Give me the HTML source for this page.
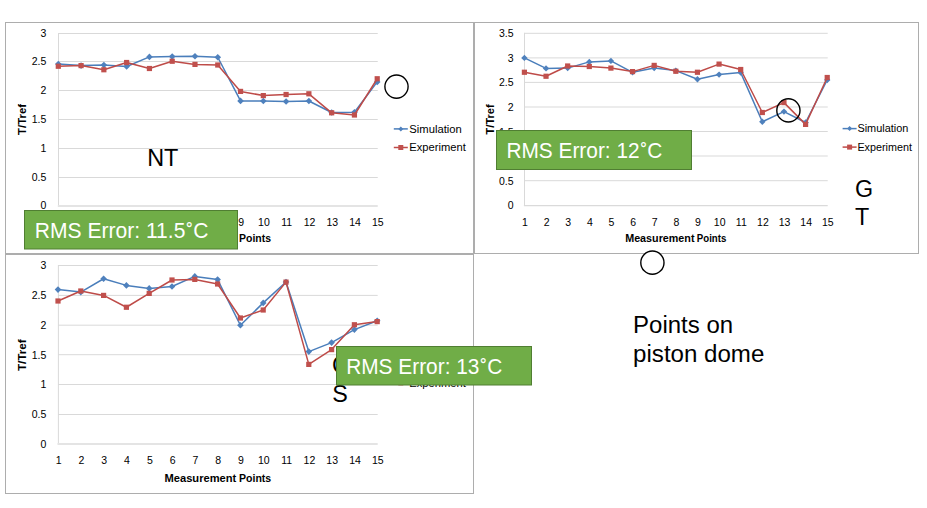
<!DOCTYPE html>
<html><head><meta charset="utf-8"><style>html,body{margin:0;padding:0;background:#fff;overflow:hidden}svg{display:block}</style></head><body>
<svg width="927" height="508" viewBox="0 0 927 508" font-family="'Liberation Sans', Arial, sans-serif" fill="#000">
<rect width="927" height="508" fill="#fff"/>
<g fill="none" stroke="#ADADAD" stroke-width="1">
<rect x="5.5" y="22.5" width="468" height="231"/>
<rect x="474.5" y="22.5" width="444" height="231"/>
<rect x="5.5" y="254.5" width="468" height="239"/>
</g>
<line x1="58.3" y1="33.5" x2="377.72" y2="33.5" stroke="#D9D9D9" stroke-width="1"/>
<line x1="58.3" y1="61.5" x2="377.72" y2="61.5" stroke="#D9D9D9" stroke-width="1"/>
<line x1="58.3" y1="90.5" x2="377.72" y2="90.5" stroke="#D9D9D9" stroke-width="1"/>
<line x1="58.3" y1="119.5" x2="377.72" y2="119.5" stroke="#D9D9D9" stroke-width="1"/>
<line x1="58.3" y1="148.5" x2="377.72" y2="148.5" stroke="#D9D9D9" stroke-width="1"/>
<line x1="58.3" y1="177.5" x2="377.72" y2="177.5" stroke="#D9D9D9" stroke-width="1"/>
<line x1="58.5" y1="33.0" x2="58.5" y2="206" stroke="#D9D9D9" stroke-width="1"/>
<line x1="57.8" y1="206" x2="377.72" y2="206" stroke="#E4E4E4" stroke-width="2"/>
<text x="46.4" y="37.30" text-anchor="end" font-size="10.5">3</text>
<text x="46.4" y="65.30" text-anchor="end" font-size="10.5">2.5</text>
<text x="46.4" y="94.30" text-anchor="end" font-size="10.5">2</text>
<text x="46.4" y="123.30" text-anchor="end" font-size="10.5">1.5</text>
<text x="46.4" y="152.30" text-anchor="end" font-size="10.5">1</text>
<text x="46.4" y="181.30" text-anchor="end" font-size="10.5">0.5</text>
<text x="46.4" y="209.40" text-anchor="end" font-size="10.5">0</text>
<text x="58.90" y="225.9" text-anchor="middle" font-size="10.5">1</text>
<text x="81.68" y="225.9" text-anchor="middle" font-size="10.5">2</text>
<text x="104.46" y="225.9" text-anchor="middle" font-size="10.5">3</text>
<text x="127.24" y="225.9" text-anchor="middle" font-size="10.5">4</text>
<text x="150.02" y="225.9" text-anchor="middle" font-size="10.5">5</text>
<text x="172.80" y="225.9" text-anchor="middle" font-size="10.5">6</text>
<text x="195.58" y="225.9" text-anchor="middle" font-size="10.5">7</text>
<text x="218.36" y="225.9" text-anchor="middle" font-size="10.5">8</text>
<text x="241.14" y="225.9" text-anchor="middle" font-size="10.5">9</text>
<text x="263.92" y="225.9" text-anchor="middle" font-size="10.5">10</text>
<text x="286.70" y="225.9" text-anchor="middle" font-size="10.5">11</text>
<text x="309.48" y="225.9" text-anchor="middle" font-size="10.5">12</text>
<text x="332.26" y="225.9" text-anchor="middle" font-size="10.5">13</text>
<text x="355.04" y="225.9" text-anchor="middle" font-size="10.5">14</text>
<text x="377.82" y="225.9" text-anchor="middle" font-size="10.5">15</text>
<text x="164.40" y="241.7" font-size="10.2" font-weight="bold" textLength="71.80" lengthAdjust="spacingAndGlyphs">Measurement</text>
<text x="239.00" y="241.7" font-size="10.2" font-weight="bold" textLength="32.00" lengthAdjust="spacingAndGlyphs">Points</text>
<text transform="translate(26.2,119.4) rotate(-90)" x="0" y="0" text-anchor="middle" font-size="10.2" font-weight="bold" textLength="31" lengthAdjust="spacingAndGlyphs">T/Tref</text>
<polyline points="58.30,64.10 81.08,65.60 103.86,65.00 126.64,66.50 149.42,56.90 172.20,56.60 194.98,56.25 217.76,57.25 240.54,100.90 263.32,101.00 286.10,101.50 308.88,101.00 331.66,112.50 354.44,112.30 377.22,81.90" fill="none" stroke="#4A7EBB" stroke-width="1.5" stroke-linejoin="round"/>
<path d="M58.30 60.80L61.60 64.10L58.30 67.40L55.00 64.10Z" fill="#4F81BD"/>
<path d="M81.08 62.30L84.38 65.60L81.08 68.90L77.78 65.60Z" fill="#4F81BD"/>
<path d="M103.86 61.70L107.16 65.00L103.86 68.30L100.56 65.00Z" fill="#4F81BD"/>
<path d="M126.64 63.20L129.94 66.50L126.64 69.80L123.34 66.50Z" fill="#4F81BD"/>
<path d="M149.42 53.60L152.72 56.90L149.42 60.20L146.12 56.90Z" fill="#4F81BD"/>
<path d="M172.20 53.30L175.50 56.60L172.20 59.90L168.90 56.60Z" fill="#4F81BD"/>
<path d="M194.98 52.95L198.28 56.25L194.98 59.55L191.68 56.25Z" fill="#4F81BD"/>
<path d="M217.76 53.95L221.06 57.25L217.76 60.55L214.46 57.25Z" fill="#4F81BD"/>
<path d="M240.54 97.60L243.84 100.90L240.54 104.20L237.24 100.90Z" fill="#4F81BD"/>
<path d="M263.32 97.70L266.62 101.00L263.32 104.30L260.02 101.00Z" fill="#4F81BD"/>
<path d="M286.10 98.20L289.40 101.50L286.10 104.80L282.80 101.50Z" fill="#4F81BD"/>
<path d="M308.88 97.70L312.18 101.00L308.88 104.30L305.58 101.00Z" fill="#4F81BD"/>
<path d="M331.66 109.20L334.96 112.50L331.66 115.80L328.36 112.50Z" fill="#4F81BD"/>
<path d="M354.44 109.00L357.74 112.30L354.44 115.60L351.14 112.30Z" fill="#4F81BD"/>
<path d="M377.22 78.60L380.52 81.90L377.22 85.20L373.92 81.90Z" fill="#4F81BD"/>
<polyline points="58.30,66.25 81.08,65.60 103.86,69.75 126.64,62.50 149.42,68.50 172.20,61.25 194.98,64.40 217.76,65.00 240.54,91.40 263.32,95.60 286.10,94.50 308.88,93.80 331.66,112.80 354.44,115.00 377.22,78.75" fill="none" stroke="#BE4B48" stroke-width="1.5" stroke-linejoin="round"/>
<rect x="55.70" y="63.65" width="5.2" height="5.2" fill="#C0504D"/>
<rect x="78.48" y="63.00" width="5.2" height="5.2" fill="#C0504D"/>
<rect x="101.26" y="67.15" width="5.2" height="5.2" fill="#C0504D"/>
<rect x="124.04" y="59.90" width="5.2" height="5.2" fill="#C0504D"/>
<rect x="146.82" y="65.90" width="5.2" height="5.2" fill="#C0504D"/>
<rect x="169.60" y="58.65" width="5.2" height="5.2" fill="#C0504D"/>
<rect x="192.38" y="61.80" width="5.2" height="5.2" fill="#C0504D"/>
<rect x="215.16" y="62.40" width="5.2" height="5.2" fill="#C0504D"/>
<rect x="237.94" y="88.80" width="5.2" height="5.2" fill="#C0504D"/>
<rect x="260.72" y="93.00" width="5.2" height="5.2" fill="#C0504D"/>
<rect x="283.50" y="91.90" width="5.2" height="5.2" fill="#C0504D"/>
<rect x="306.28" y="91.20" width="5.2" height="5.2" fill="#C0504D"/>
<rect x="329.06" y="110.20" width="5.2" height="5.2" fill="#C0504D"/>
<rect x="351.84" y="112.40" width="5.2" height="5.2" fill="#C0504D"/>
<rect x="374.62" y="76.15" width="5.2" height="5.2" fill="#C0504D"/>
<line x1="393.8" y1="128.9" x2="407.8" y2="128.9" stroke="#4A7EBB" stroke-width="1.5"/>
<path d="M400.8 126.4L403.3 128.9L400.8 131.4L398.3 128.9Z" fill="#4F81BD"/>
<line x1="393.8" y1="147.5" x2="407.8" y2="147.5" stroke="#BE4B48" stroke-width="1.5"/>
<rect x="398.3" y="145.0" width="5" height="5" fill="#C0504D"/>
<text x="409.3" y="132.5" font-size="10" textLength="52.5" lengthAdjust="spacingAndGlyphs">Simulation</text>
<text x="409.3" y="151.1" font-size="10" textLength="56.5" lengthAdjust="spacingAndGlyphs">Experiment</text>
<line x1="524.4" y1="33.3" x2="827.72" y2="33.3" stroke="#D9D9D9" stroke-width="1"/>
<line x1="524.4" y1="57.9" x2="827.72" y2="57.9" stroke="#D9D9D9" stroke-width="1"/>
<line x1="524.4" y1="82.4" x2="827.72" y2="82.4" stroke="#D9D9D9" stroke-width="1"/>
<line x1="524.4" y1="107.0" x2="827.72" y2="107.0" stroke="#D9D9D9" stroke-width="1"/>
<line x1="524.4" y1="131.5" x2="827.72" y2="131.5" stroke="#D9D9D9" stroke-width="1"/>
<line x1="524.4" y1="156.0" x2="827.72" y2="156.0" stroke="#D9D9D9" stroke-width="1"/>
<line x1="524.4" y1="180.7" x2="827.72" y2="180.7" stroke="#D9D9D9" stroke-width="1"/>
<line x1="524.5" y1="32.8" x2="524.5" y2="205.6" stroke="#D9D9D9" stroke-width="1"/>
<line x1="523.9" y1="205.6" x2="827.72" y2="205.6" stroke="#DADADA" stroke-width="1.3"/>
<text x="513.6" y="37.30" text-anchor="end" font-size="10.5">3.5</text>
<text x="513.6" y="61.90" text-anchor="end" font-size="10.5">3</text>
<text x="513.6" y="86.40" text-anchor="end" font-size="10.5">2.5</text>
<text x="513.6" y="111.00" text-anchor="end" font-size="10.5">2</text>
<text x="513.6" y="135.50" text-anchor="end" font-size="10.5">1.5</text>
<text x="513.6" y="160.00" text-anchor="end" font-size="10.5">1</text>
<text x="513.6" y="184.70" text-anchor="end" font-size="10.5">0.5</text>
<text x="513.6" y="209.40" text-anchor="end" font-size="10.5">0</text>
<text x="525.00" y="225.6" text-anchor="middle" font-size="10.5">1</text>
<text x="546.63" y="225.6" text-anchor="middle" font-size="10.5">2</text>
<text x="568.26" y="225.6" text-anchor="middle" font-size="10.5">3</text>
<text x="589.89" y="225.6" text-anchor="middle" font-size="10.5">4</text>
<text x="611.52" y="225.6" text-anchor="middle" font-size="10.5">5</text>
<text x="633.15" y="225.6" text-anchor="middle" font-size="10.5">6</text>
<text x="654.78" y="225.6" text-anchor="middle" font-size="10.5">7</text>
<text x="676.41" y="225.6" text-anchor="middle" font-size="10.5">8</text>
<text x="698.04" y="225.6" text-anchor="middle" font-size="10.5">9</text>
<text x="719.67" y="225.6" text-anchor="middle" font-size="10.5">10</text>
<text x="741.30" y="225.6" text-anchor="middle" font-size="10.5">11</text>
<text x="762.93" y="225.6" text-anchor="middle" font-size="10.5">12</text>
<text x="784.56" y="225.6" text-anchor="middle" font-size="10.5">13</text>
<text x="806.19" y="225.6" text-anchor="middle" font-size="10.5">14</text>
<text x="827.82" y="225.6" text-anchor="middle" font-size="10.5">15</text>
<text x="625.20" y="241.5" font-size="10.2" font-weight="bold" textLength="69.30" lengthAdjust="spacingAndGlyphs">Measurement</text>
<text x="696.80" y="241.5" font-size="10.2" font-weight="bold" textLength="29.50" lengthAdjust="spacingAndGlyphs">Points</text>
<text transform="translate(493.8,119.4) rotate(-90)" x="0" y="0" text-anchor="middle" font-size="10.2" font-weight="bold" textLength="30" lengthAdjust="spacingAndGlyphs">T/Tref</text>
<polyline points="524.40,57.90 546.03,68.40 567.66,68.10 589.29,61.90 610.92,60.90 632.55,72.30 654.18,68.10 675.81,70.60 697.44,79.30 719.07,74.60 740.70,72.60 762.33,121.70 783.96,111.60 805.59,122.50 827.22,80.00" fill="none" stroke="#4A7EBB" stroke-width="1.5" stroke-linejoin="round"/>
<path d="M524.40 54.70L527.60 57.90L524.40 61.10L521.20 57.90Z" fill="#4F81BD"/>
<path d="M546.03 65.20L549.23 68.40L546.03 71.60L542.83 68.40Z" fill="#4F81BD"/>
<path d="M567.66 64.90L570.86 68.10L567.66 71.30L564.46 68.10Z" fill="#4F81BD"/>
<path d="M589.29 58.70L592.49 61.90L589.29 65.10L586.09 61.90Z" fill="#4F81BD"/>
<path d="M610.92 57.70L614.12 60.90L610.92 64.10L607.72 60.90Z" fill="#4F81BD"/>
<path d="M632.55 69.10L635.75 72.30L632.55 75.50L629.35 72.30Z" fill="#4F81BD"/>
<path d="M654.18 64.90L657.38 68.10L654.18 71.30L650.98 68.10Z" fill="#4F81BD"/>
<path d="M675.81 67.40L679.01 70.60L675.81 73.80L672.61 70.60Z" fill="#4F81BD"/>
<path d="M697.44 76.10L700.64 79.30L697.44 82.50L694.24 79.30Z" fill="#4F81BD"/>
<path d="M719.07 71.40L722.27 74.60L719.07 77.80L715.87 74.60Z" fill="#4F81BD"/>
<path d="M740.70 69.40L743.90 72.60L740.70 75.80L737.50 72.60Z" fill="#4F81BD"/>
<path d="M762.33 118.50L765.53 121.70L762.33 124.90L759.13 121.70Z" fill="#4F81BD"/>
<path d="M783.96 108.40L787.16 111.60L783.96 114.80L780.76 111.60Z" fill="#4F81BD"/>
<path d="M805.59 119.30L808.79 122.50L805.59 125.70L802.39 122.50Z" fill="#4F81BD"/>
<path d="M827.22 76.80L830.42 80.00L827.22 83.20L824.02 80.00Z" fill="#4F81BD"/>
<polyline points="524.40,72.25 546.03,76.25 567.66,66.00 589.29,66.50 610.92,68.10 632.55,71.60 654.18,65.40 675.81,71.25 697.44,72.25 719.07,64.10 740.70,69.50 762.33,112.50 783.96,102.60 805.59,124.40 827.22,77.50" fill="none" stroke="#BE4B48" stroke-width="1.5" stroke-linejoin="round"/>
<rect x="521.80" y="69.65" width="5.2" height="5.2" fill="#C0504D"/>
<rect x="543.43" y="73.65" width="5.2" height="5.2" fill="#C0504D"/>
<rect x="565.06" y="63.40" width="5.2" height="5.2" fill="#C0504D"/>
<rect x="586.69" y="63.90" width="5.2" height="5.2" fill="#C0504D"/>
<rect x="608.32" y="65.50" width="5.2" height="5.2" fill="#C0504D"/>
<rect x="629.95" y="69.00" width="5.2" height="5.2" fill="#C0504D"/>
<rect x="651.58" y="62.80" width="5.2" height="5.2" fill="#C0504D"/>
<rect x="673.21" y="68.65" width="5.2" height="5.2" fill="#C0504D"/>
<rect x="694.84" y="69.65" width="5.2" height="5.2" fill="#C0504D"/>
<rect x="716.47" y="61.50" width="5.2" height="5.2" fill="#C0504D"/>
<rect x="738.10" y="66.90" width="5.2" height="5.2" fill="#C0504D"/>
<rect x="759.73" y="109.90" width="5.2" height="5.2" fill="#C0504D"/>
<rect x="781.36" y="100.00" width="5.2" height="5.2" fill="#C0504D"/>
<rect x="802.99" y="121.80" width="5.2" height="5.2" fill="#C0504D"/>
<rect x="824.62" y="74.90" width="5.2" height="5.2" fill="#C0504D"/>
<line x1="842.6" y1="128.6" x2="856.6" y2="128.6" stroke="#4A7EBB" stroke-width="1.5"/>
<path d="M849.6 126.1L852.1 128.6L849.6 131.1L847.1 128.6Z" fill="#4F81BD"/>
<line x1="842.6" y1="147.1" x2="856.6" y2="147.1" stroke="#BE4B48" stroke-width="1.5"/>
<rect x="847.1" y="144.6" width="5" height="5" fill="#C0504D"/>
<text x="857.4" y="132.2" font-size="10" textLength="51" lengthAdjust="spacingAndGlyphs">Simulation</text>
<text x="857.4" y="150.7" font-size="10" textLength="54.5" lengthAdjust="spacingAndGlyphs">Experiment</text>
<line x1="58.0" y1="265.5" x2="377.70" y2="265.5" stroke="#D9D9D9" stroke-width="1"/>
<line x1="58.0" y1="295.4" x2="377.70" y2="295.4" stroke="#D9D9D9" stroke-width="1"/>
<line x1="58.0" y1="325.2" x2="377.70" y2="325.2" stroke="#D9D9D9" stroke-width="1"/>
<line x1="58.0" y1="354.7" x2="377.70" y2="354.7" stroke="#D9D9D9" stroke-width="1"/>
<line x1="58.0" y1="384.5" x2="377.70" y2="384.5" stroke="#D9D9D9" stroke-width="1"/>
<line x1="58.0" y1="414.5" x2="377.70" y2="414.5" stroke="#D9D9D9" stroke-width="1"/>
<line x1="58.4" y1="265.0" x2="58.4" y2="444" stroke="#D9D9D9" stroke-width="1"/>
<line x1="57.5" y1="444" x2="377.70" y2="444" stroke="#E4E4E4" stroke-width="2"/>
<text x="46.4" y="269.30" text-anchor="end" font-size="10.5">3</text>
<text x="46.4" y="299.20" text-anchor="end" font-size="10.5">2.5</text>
<text x="46.4" y="329.00" text-anchor="end" font-size="10.5">2</text>
<text x="46.4" y="358.50" text-anchor="end" font-size="10.5">1.5</text>
<text x="46.4" y="388.30" text-anchor="end" font-size="10.5">1</text>
<text x="46.4" y="418.30" text-anchor="end" font-size="10.5">0.5</text>
<text x="46.4" y="447.55" text-anchor="end" font-size="10.5">0</text>
<text x="58.60" y="464.2" text-anchor="middle" font-size="10.5">1</text>
<text x="81.40" y="464.2" text-anchor="middle" font-size="10.5">2</text>
<text x="104.20" y="464.2" text-anchor="middle" font-size="10.5">3</text>
<text x="127.00" y="464.2" text-anchor="middle" font-size="10.5">4</text>
<text x="149.80" y="464.2" text-anchor="middle" font-size="10.5">5</text>
<text x="172.60" y="464.2" text-anchor="middle" font-size="10.5">6</text>
<text x="195.40" y="464.2" text-anchor="middle" font-size="10.5">7</text>
<text x="218.20" y="464.2" text-anchor="middle" font-size="10.5">8</text>
<text x="241.00" y="464.2" text-anchor="middle" font-size="10.5">9</text>
<text x="263.80" y="464.2" text-anchor="middle" font-size="10.5">10</text>
<text x="286.60" y="464.2" text-anchor="middle" font-size="10.5">11</text>
<text x="309.40" y="464.2" text-anchor="middle" font-size="10.5">12</text>
<text x="332.20" y="464.2" text-anchor="middle" font-size="10.5">13</text>
<text x="355.00" y="464.2" text-anchor="middle" font-size="10.5">14</text>
<text x="377.80" y="464.2" text-anchor="middle" font-size="10.5">15</text>
<text x="164.50" y="482.1" font-size="10.2" font-weight="bold" textLength="71.80" lengthAdjust="spacingAndGlyphs">Measurement</text>
<text x="239.00" y="482.1" font-size="10.2" font-weight="bold" textLength="32.20" lengthAdjust="spacingAndGlyphs">Points</text>
<text transform="translate(25.9,355.2) rotate(-90)" x="0" y="0" text-anchor="middle" font-size="10.2" font-weight="bold" textLength="31.8" lengthAdjust="spacingAndGlyphs">T/Tref</text>
<polyline points="58.00,289.60 80.80,292.10 103.60,278.75 126.40,285.40 149.20,288.40 172.00,286.50 194.80,276.40 217.60,279.60 240.40,325.25 263.20,302.90 286.00,282.00 308.80,351.60 331.60,342.60 354.40,329.60 377.20,320.80" fill="none" stroke="#4A7EBB" stroke-width="1.5" stroke-linejoin="round"/>
<path d="M58.00 286.30L61.30 289.60L58.00 292.90L54.70 289.60Z" fill="#4F81BD"/>
<path d="M80.80 288.80L84.10 292.10L80.80 295.40L77.50 292.10Z" fill="#4F81BD"/>
<path d="M103.60 275.45L106.90 278.75L103.60 282.05L100.30 278.75Z" fill="#4F81BD"/>
<path d="M126.40 282.10L129.70 285.40L126.40 288.70L123.10 285.40Z" fill="#4F81BD"/>
<path d="M149.20 285.10L152.50 288.40L149.20 291.70L145.90 288.40Z" fill="#4F81BD"/>
<path d="M172.00 283.20L175.30 286.50L172.00 289.80L168.70 286.50Z" fill="#4F81BD"/>
<path d="M194.80 273.10L198.10 276.40L194.80 279.70L191.50 276.40Z" fill="#4F81BD"/>
<path d="M217.60 276.30L220.90 279.60L217.60 282.90L214.30 279.60Z" fill="#4F81BD"/>
<path d="M240.40 321.95L243.70 325.25L240.40 328.55L237.10 325.25Z" fill="#4F81BD"/>
<path d="M263.20 299.60L266.50 302.90L263.20 306.20L259.90 302.90Z" fill="#4F81BD"/>
<path d="M286.00 278.70L289.30 282.00L286.00 285.30L282.70 282.00Z" fill="#4F81BD"/>
<path d="M308.80 348.30L312.10 351.60L308.80 354.90L305.50 351.60Z" fill="#4F81BD"/>
<path d="M331.60 339.30L334.90 342.60L331.60 345.90L328.30 342.60Z" fill="#4F81BD"/>
<path d="M354.40 326.30L357.70 329.60L354.40 332.90L351.10 329.60Z" fill="#4F81BD"/>
<path d="M377.20 317.50L380.50 320.80L377.20 324.10L373.90 320.80Z" fill="#4F81BD"/>
<polyline points="58.00,301.00 80.80,291.00 103.60,295.40 126.40,307.25 149.20,293.40 172.00,280.00 194.80,279.40 217.60,284.00 240.40,318.00 263.20,310.00 286.00,282.10 308.80,364.40 331.60,349.60 354.40,324.75 377.20,321.60" fill="none" stroke="#BE4B48" stroke-width="1.5" stroke-linejoin="round"/>
<rect x="55.40" y="298.40" width="5.2" height="5.2" fill="#C0504D"/>
<rect x="78.20" y="288.40" width="5.2" height="5.2" fill="#C0504D"/>
<rect x="101.00" y="292.80" width="5.2" height="5.2" fill="#C0504D"/>
<rect x="123.80" y="304.65" width="5.2" height="5.2" fill="#C0504D"/>
<rect x="146.60" y="290.80" width="5.2" height="5.2" fill="#C0504D"/>
<rect x="169.40" y="277.40" width="5.2" height="5.2" fill="#C0504D"/>
<rect x="192.20" y="276.80" width="5.2" height="5.2" fill="#C0504D"/>
<rect x="215.00" y="281.40" width="5.2" height="5.2" fill="#C0504D"/>
<rect x="237.80" y="315.40" width="5.2" height="5.2" fill="#C0504D"/>
<rect x="260.60" y="307.40" width="5.2" height="5.2" fill="#C0504D"/>
<rect x="283.40" y="279.50" width="5.2" height="5.2" fill="#C0504D"/>
<rect x="306.20" y="361.80" width="5.2" height="5.2" fill="#C0504D"/>
<rect x="329.00" y="347.00" width="5.2" height="5.2" fill="#C0504D"/>
<rect x="351.80" y="322.15" width="5.2" height="5.2" fill="#C0504D"/>
<rect x="374.60" y="319.00" width="5.2" height="5.2" fill="#C0504D"/>
<line x1="393.8" y1="364.3" x2="407.8" y2="364.3" stroke="#4A7EBB" stroke-width="1.5"/>
<path d="M400.8 361.8L403.3 364.3L400.8 366.8L398.3 364.3Z" fill="#4F81BD"/>
<line x1="393.8" y1="382.9" x2="407.8" y2="382.9" stroke="#BE4B48" stroke-width="1.5"/>
<rect x="398.3" y="380.4" width="5" height="5" fill="#C0504D"/>
<text x="409.3" y="367.90000000000003" font-size="10" textLength="52.5" lengthAdjust="spacingAndGlyphs">Simulation</text>
<text x="409.3" y="386.5" font-size="10" textLength="56.5" lengthAdjust="spacingAndGlyphs">Experiment</text>
<text x="147.2" y="166.4" font-size="23.3" textLength="31.2" lengthAdjust="spacingAndGlyphs">NT</text>
<text x="855" y="196.6" font-size="23.3">G</text>
<text x="855" y="225.3" font-size="23.3">T</text>
<text x="332.0" y="372.5" font-size="23.3">C</text>
<text x="332.2" y="401.6" font-size="23.3">S</text>
<text x="633.1" y="333.3" font-size="23.3" textLength="100.0" lengthAdjust="spacingAndGlyphs">Points on</text>
<text x="633.1" y="361.8" font-size="23.3" textLength="131.2" lengthAdjust="spacingAndGlyphs">piston dome</text>
<circle cx="396.5" cy="86.6" r="11.6" fill="none" stroke="#000" stroke-width="1.4"/>
<circle cx="788.4" cy="110.4" r="11.6" fill="none" stroke="#000" stroke-width="1.4"/>
<circle cx="652.4" cy="262.65" r="11.6" fill="#fff" stroke="#000" stroke-width="1.4"/>
<rect x="24.5" y="210.5" width="213" height="38.5" fill="#70AD47" stroke="#507E32" stroke-width="1"/>
<text x="34.8" y="237.9" font-size="22" fill="#fff" textLength="173.6" lengthAdjust="spacingAndGlyphs">RMS Error: 11.5<tspan dx="0.8" dy="1.6">˚</tspan><tspan dy="-1.6">C</tspan></text>
<rect x="496.5" y="130.5" width="195" height="39" fill="#70AD47" stroke="#507E32" stroke-width="1"/>
<text x="506.4" y="158.1" font-size="22" fill="#fff" textLength="156" lengthAdjust="spacingAndGlyphs">RMS Error: 12<tspan dx="0.8" dy="1.6">˚</tspan><tspan dy="-1.6">C</tspan></text>
<rect x="336.5" y="346.5" width="195" height="38.5" fill="#70AD47" stroke="#507E32" stroke-width="1"/>
<text x="346.2" y="373.9" font-size="22" fill="#fff" textLength="156" lengthAdjust="spacingAndGlyphs">RMS Error: 13<tspan dx="0.8" dy="1.6">˚</tspan><tspan dy="-1.6">C</tspan></text>
</svg>
</body></html>
